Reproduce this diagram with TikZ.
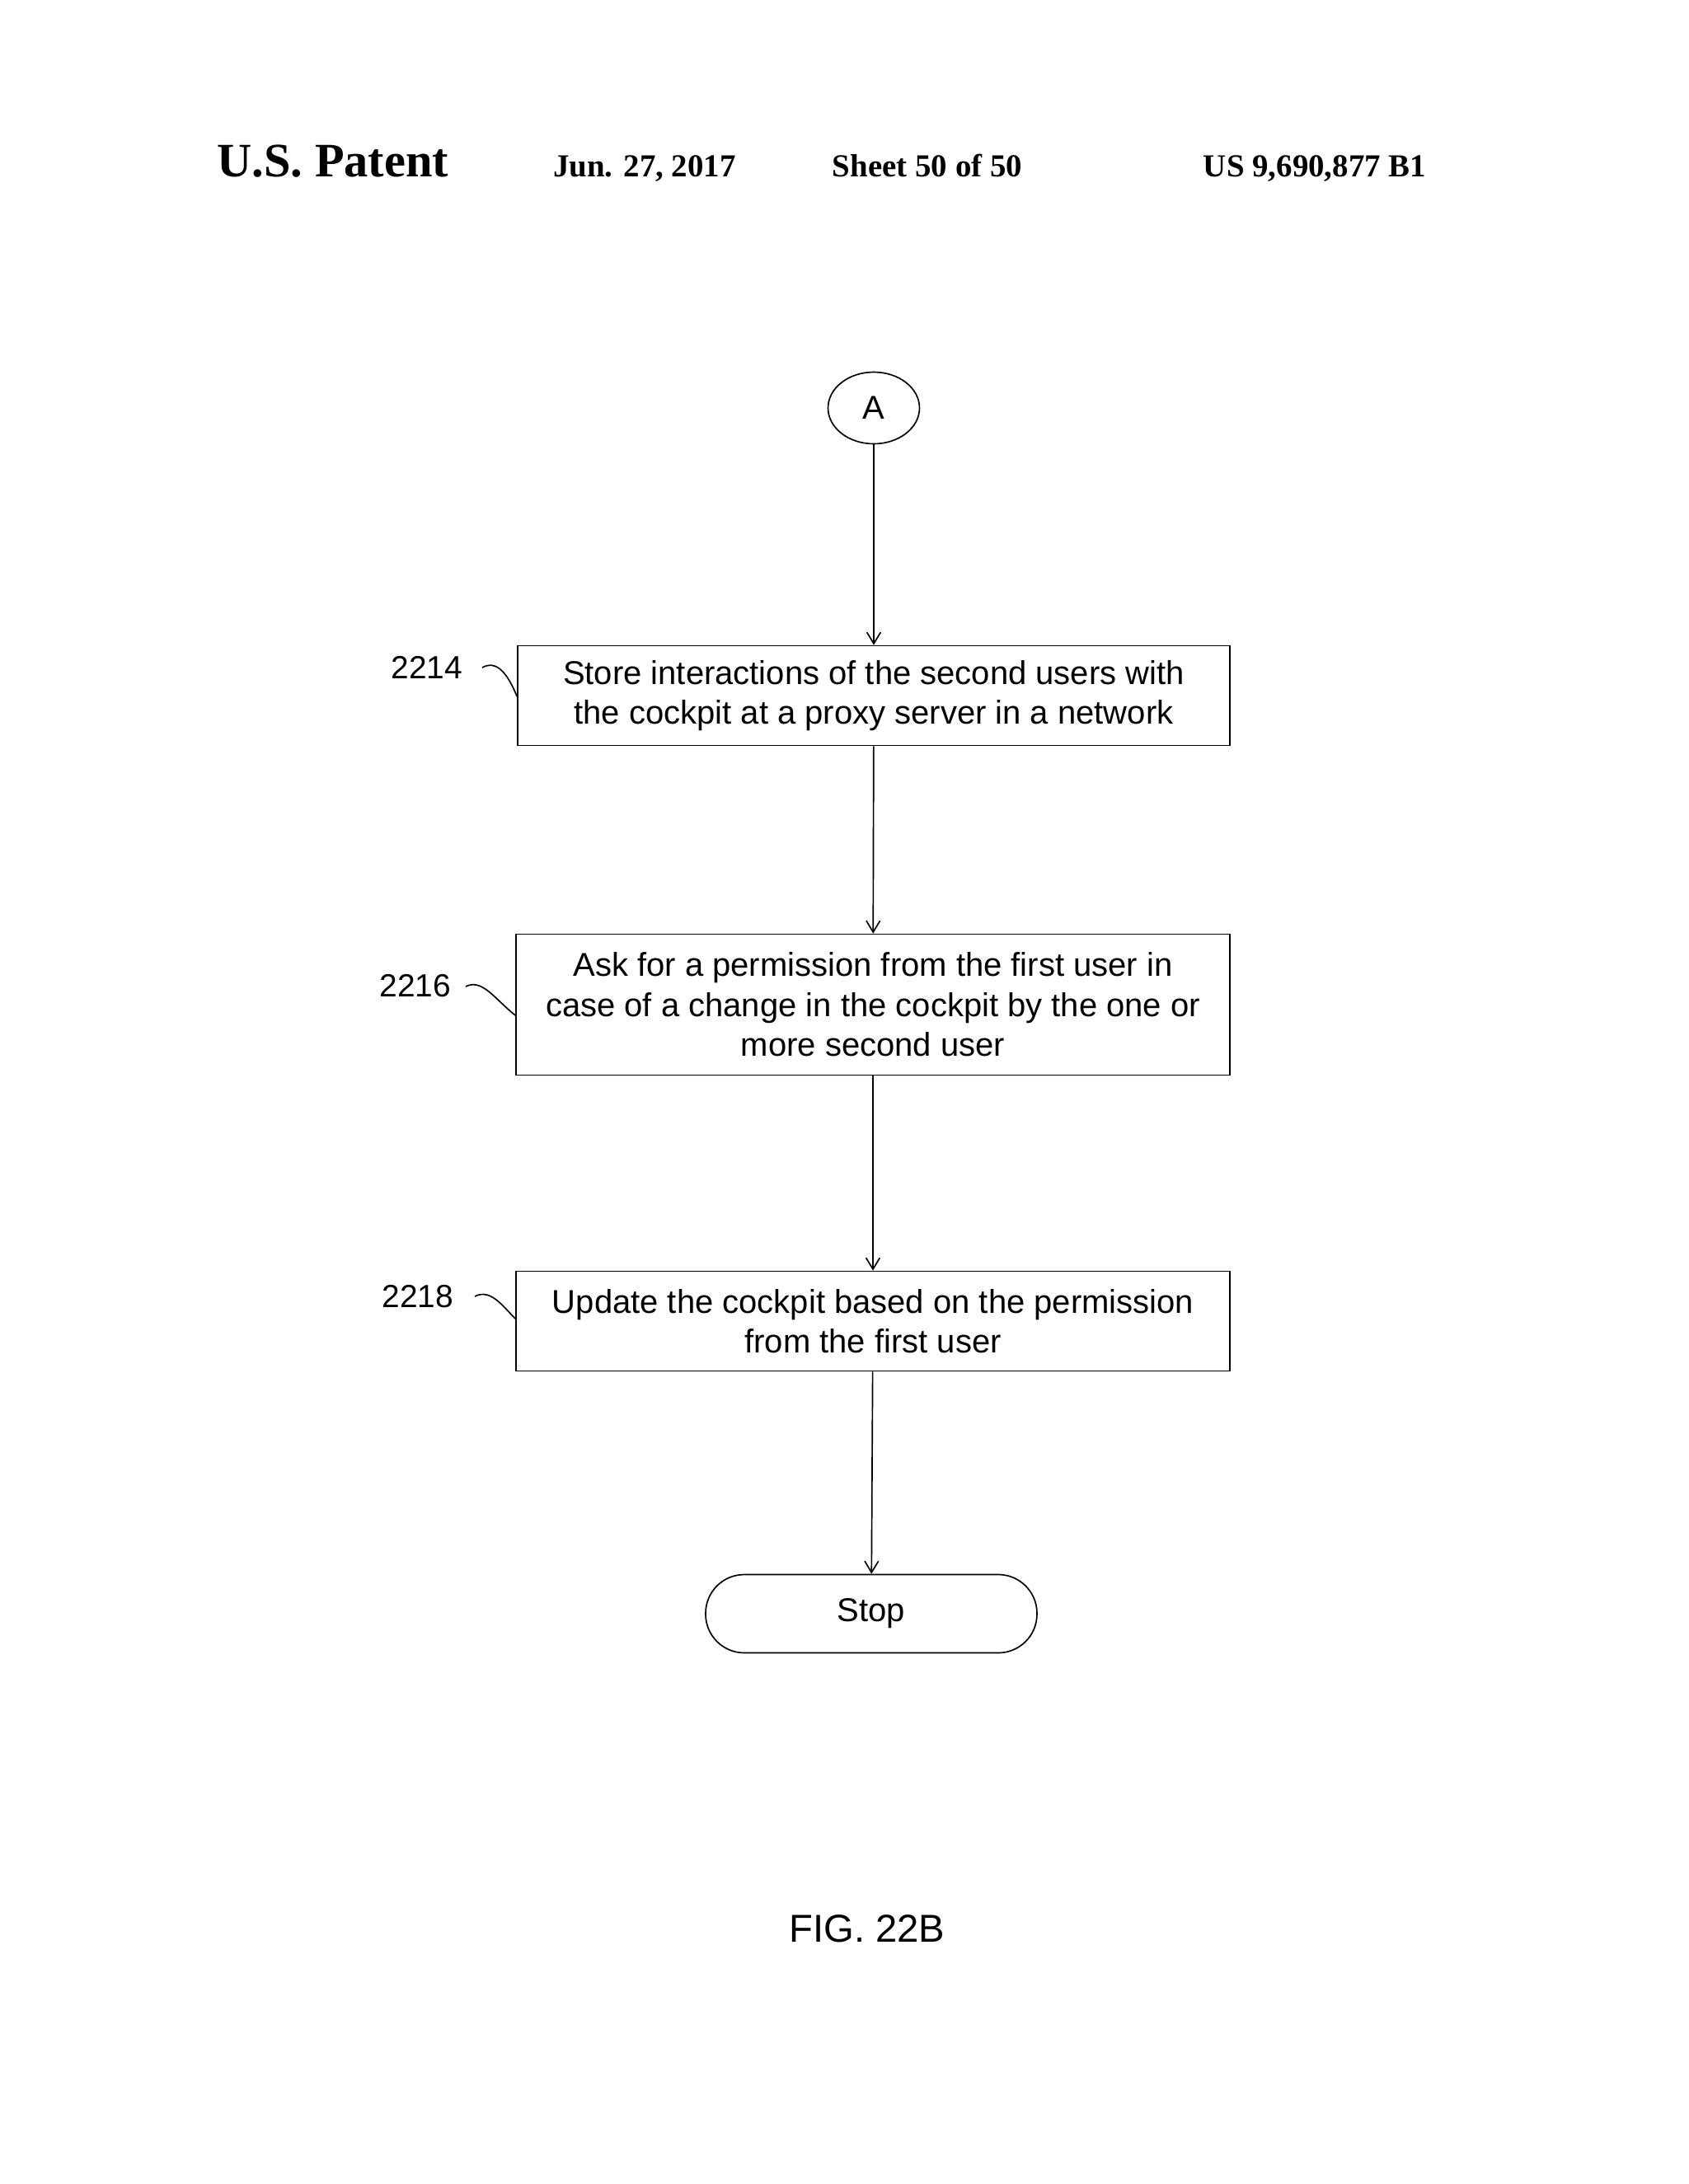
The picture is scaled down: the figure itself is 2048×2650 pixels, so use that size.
\documentclass[tikz,border=0pt]{standalone}
\usepackage{fontspec}
\setmainfont{Liberation Sans}
\newfontfamily\serifb{Liberation Serif}
\usetikzlibrary{arrows.meta,shapes.geometric}
\begin{document}
\begin{tikzpicture}[x=0.36pt,y=-0.36pt,
  box/.style={draw,line width=0.6pt,align=center,font=\fontsize{14.4}{17.4}\selectfont,inner sep=0pt},
  arr/.style={-{Straight Barb[length=5pt,width=6pt]},line width=0.6pt},
  lbl/.style={font=\fontsize{14}{16}\selectfont},
  hdr/.style={font=\serifb\bfseries\fontsize{14}{16}\selectfont,anchor=base}]
\useasboundingbox (0,0) rectangle (2048,2650);
\node[hdr,font=\serifb\bfseries\fontsize{21}{23}\selectfont] (h1) at (404,214) {U.S. Patent};
\node[hdr] (h2) at (782,214) {Jun. 27, 2017};
\node[hdr] (h3) at (1125,214) {Sheet 50 of 50};
\node[hdr] (h4) at (1595,214) {US 9,690,877 B1};
\node[draw,ellipse,line width=0.6pt,minimum width=111*0.36pt,minimum height=87*0.36pt,font=\fontsize{14.4}{16}\selectfont,inner sep=0pt] (a) at (1060,495) {A};
\node[box,minimum width=864*0.36pt,minimum height=121*0.36pt] (b1) at (1060,844) {Store interactions of the second users with\\the cockpit at a proxy server in a network};
\node[box,minimum width=866*0.36pt,minimum height=171*0.36pt] (b2) at (1059,1219) {Ask for a permission from the first user in\\case of a change in the cockpit by the one or\\more second user};
\node[box,minimum width=866*0.36pt,minimum height=121*0.36pt] (b3) at (1059,1603) {Update the cockpit based on the permission\\from the first user};
\node[draw,rounded corners=47*0.36pt,line width=0.6pt,minimum width=402*0.36pt,minimum height=95*0.36pt,font=\fontsize{14.4}{16}\selectfont] (st) at (1057,1958) {Stop};
\draw[arr] (a) -- (b1);
\draw[arr] (b1) -- (b2);
\draw[arr] (b2) -- (b3);
\draw[arr] (b3) -- (st);
\node[lbl] (l1) at (518,810) {2214};
\node[lbl] (l2) at (504,1196) {2216};
\node[lbl] (l3) at (507,1573) {2218};
\draw[line width=0.6pt] (585,810) .. controls (603,800) and (616,818) .. (b1.west|-0,845);
\draw[line width=0.6pt] (565,1197) .. controls (585,1187) and (600,1212) .. (b2.west|-0,1232);
\draw[line width=0.6pt] (576,1573) .. controls (595,1563) and (610,1585) .. (b3.west|-0,1600);
\node[font=\fontsize{17}{20}\selectfont] (fig) at (1052,2340) {FIG. 22B};
\end{tikzpicture}
\end{document}
